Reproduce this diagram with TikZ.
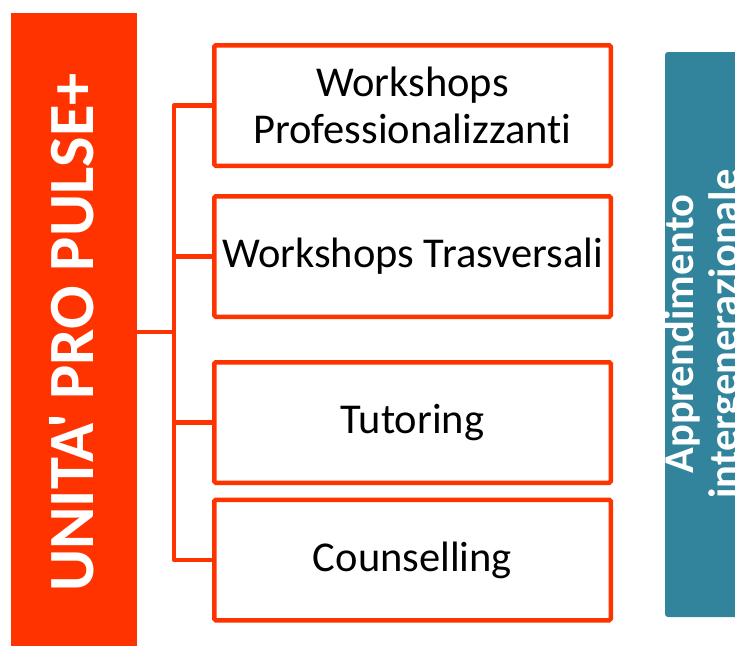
\documentclass[tikz,border=0pt]{standalone}
\usepackage{fontspec}
\newfontfamily\carlito{Carlito}[Ligatures=NoCommon]
\definecolor{pulse}{HTML}{FF3300}
\definecolor{tealbox}{HTML}{31849B}
\begin{document}
\begin{tikzpicture}[x=1pt,y=-1pt,
  item/.style={draw=pulse,line width=4.5pt,rounded corners=1.5pt,fill=white,
    minimum width=396.5pt,minimum height=120.5pt,inner sep=0pt,align=center,
    font=\carlito\fontsize{42.5}{47}\selectfont,text=black},
  link/.style={draw=pulse,line width=4.5pt,line join=round}]
\useasboundingbox (0,0) rectangle (735,648);
\clip (0,0) rectangle (735,648);
% left bar
\node[fill=pulse,minimum width=126pt,minimum height=633pt,inner sep=0pt] (main) at (74,329.5) {};
\node[rotate=90,text=white,font=\carlito\bfseries\fontsize{64.5}{70}\selectfont,inner sep=0pt] (maintext) at (72,332.5) {UNITA' PRO PULSE+};
% right bar
\node[fill=tealbox,rounded corners=3pt,minimum width=100pt,minimum height=565pt,inner sep=0pt] (learn) at (715,334.5) {};
\node[rotate=90,text=white,align=center,font=\carlito\bfseries\fontsize{42.5}{45}\selectfont,inner sep=0pt] (learntext) at (705,334) {Apprendimento\\intergenerazionale};
% boxes
\coordinate (j) at (174,332);
\node[item] (b1) at (412.5,105.5) {Workshops\\Professionalizzanti};
\node[item] (b2) at (412.5,256.5) {Workshops Trasversali};
\node[item] (b3) at (412.5,422.5) {Tutoring};
\node[item] (b4) at (412.5,560) {Counselling};
% connectors
\draw[link] (b1.west) -- (j |- b1.west) -- (j |- b4.west) -- (b4.west);
\draw[link] (j |- b2.west) -- (b2.west);
\draw[link] (j |- b3.west) -- (b3.west);
\draw[link] (main.east |- j) -- (j);
\end{tikzpicture}
\end{document}
